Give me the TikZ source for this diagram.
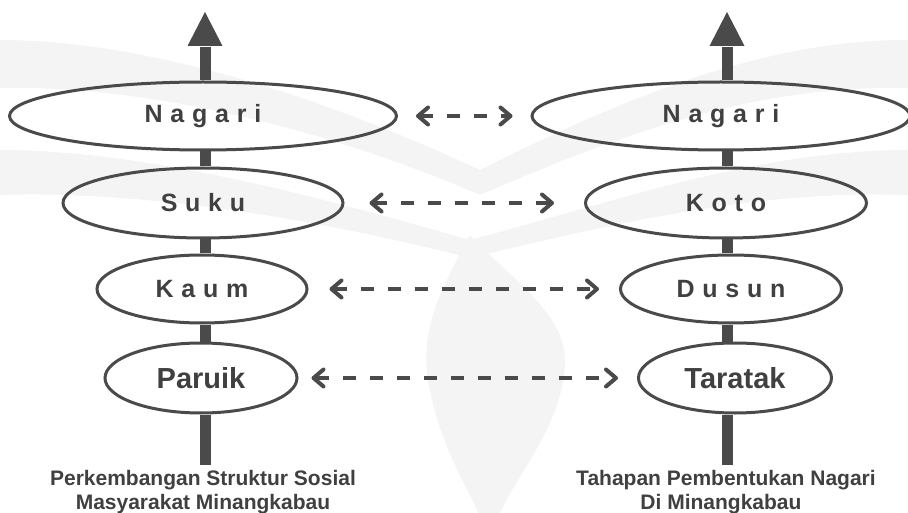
\documentclass[tikz,border=0pt]{standalone}
\usepackage{fontspec}
\setmainfont{Liberation Sans}
\usetikzlibrary{arrows.meta,shapes.geometric}
\definecolor{lc}{RGB}{74,74,74}
\definecolor{tc}{RGB}{64,64,64}
\definecolor{wm}{RGB}{244,244,244}
\newcommand\lgap{\hspace{0.31em}}
\begin{document}
\begin{tikzpicture}[x=1pt,y=-1pt,
  lvl/.style={ellipse, draw=lc, line width=3pt, inner sep=0pt, text=tc,
    font=\bfseries\fontsize{25}{29}\selectfont},
  lvlbig/.style={lvl, font=\bfseries\fontsize{29}{33}\selectfont},
  axisbar/.style={draw=lc, line width=11pt},
  link/.style={draw=lc, line width=4pt, dash pattern=on 13pt off 14pt,
    {Straight Barb[length=10pt 0 0,width=17pt 0 0,line cap=round,line join=round]}-{Straight Barb[length=10pt 0 0,width=17pt 0 0,line cap=round,line join=round]}},
  captxt/.style={text=tc, font=\bfseries\fontsize{21}{25}\selectfont, anchor=base, inner sep=0pt}]
\useasboundingbox (0,0) rectangle (908,513);
\clip (0,0) rectangle (908,513);
% faint watermark
\fill[wm] (0,40) .. controls (150,40) and (330,100) .. (480,170) -- (480,195) .. controls (330,130) and (150,85) .. (0,88) -- cycle;
\fill[wm] (908,40) .. controls (760,40) and (620,100) .. (480,170) -- (480,195) .. controls (630,130) and (760,85) .. (908,88) -- cycle;
\fill[wm] (0,150) .. controls (150,150) and (330,200) .. (470,240) -- (470,258) .. controls (330,222) and (150,190) .. (0,195) -- cycle;
\fill[wm] (908,150) .. controls (760,150) and (620,200) .. (470,240) -- (470,258) .. controls (620,222) and (760,190) .. (908,195) -- cycle;
\fill[wm] (470,235) .. controls (440,290) and (420,330) .. (428,380) .. controls (440,450) and (470,490) .. (478,513) -- (500,513) .. controls (520,470) and (565,420) .. (565,360) .. controls (565,310) and (500,270) .. (470,235) -- cycle;
% left column
\node[lvl, minimum width=387pt, minimum height=68pt] (LN) at (203,116) {N\lgap a\lgap g\lgap a\lgap r\lgap i};
\node[lvl, minimum width=280pt, minimum height=70pt] (LS) at (203,203) {S\lgap u\lgap k\lgap u};
\node[lvl, minimum width=210pt, minimum height=68pt] (LK) at (202,289) {K\lgap a\lgap u\lgap m};
\node[lvlbig, minimum width=192pt, minimum height=70pt] (LP) at (201,378) {Paruik};
% right column
\node[lvl, minimum width=378pt, minimum height=68pt] (RN) at (721,116) {N\lgap a\lgap g\lgap a\lgap r\lgap i};
\node[lvl, minimum width=281pt, minimum height=70pt] (RK) at (726,203) {K\lgap o\lgap t\lgap o};
\node[lvl, minimum width=221pt, minimum height=68pt] (RD) at (731,289) {D\lgap u\lgap s\lgap u\lgap n};
\node[lvlbig, minimum width=193pt, minimum height=70pt] (RT) at (735,378) {Taratak};
% axes
\coordinate (Lb) at (205,465); \coordinate (Lh) at (205,46); \coordinate (Lt) at (205,12);
\coordinate (Rb) at (727,465); \coordinate (Rh) at (727,46); \coordinate (Rt) at (727,12);
\draw[axisbar] (LP.south -| Lb) -- (Lb);
\draw[axisbar] (LP.north -| Lb) -- (LK.south -| Lb);
\draw[axisbar] (LK.north -| Lb) -- (LS.south -| Lb);
\draw[axisbar] (LS.north -| Lb) -- (LN.south -| Lb);
\draw[axisbar] (LN.north -| Lb) -- ([yshift=-1pt]Lh);
\fill[lc] (Lt) -- ([xshift=17.5pt]Lh) -- ([xshift=-17.5pt]Lh) -- cycle;
\draw[axisbar] (RT.south -| Rb) -- (Rb);
\draw[axisbar] (RT.north -| Rb) -- (RD.south -| Rb);
\draw[axisbar] (RD.north -| Rb) -- (RK.south -| Rb);
\draw[axisbar] (RK.north -| Rb) -- (RN.south -| Rb);
\draw[axisbar] (RN.north -| Rb) -- ([yshift=-1pt]Rh);
\fill[lc] (Rt) -- ([xshift=17.5pt]Rh) -- ([xshift=-17.5pt]Rh) -- cycle;
% correspondence links
\draw[link] ([xshift=18pt]LN.east) -- ([xshift=-18pt]RN.west);
\draw[link] ([xshift=25pt]LS.east) -- ([xshift=-30pt]RK.west);
\draw[link] ([xshift=21pt]LK.east) -- ([xshift=-20pt]RD.west);
\draw[link] ([xshift=13pt]LP.east) -- ([xshift=-19pt]RT.west);
% captions
\node[captxt] (LC1) at (203,485) {Perkembangan Struktur Sosial};
\node[captxt] (LC2) at (203,509.5) {Masyarakat Minangkabau};
\node[captxt] (RC1) at (726,485) {Tahapan Pembentukan Nagari};
\node[captxt] (RC2) at (721,509.5) {Di Minangkabau};
\end{tikzpicture}
\end{document}
